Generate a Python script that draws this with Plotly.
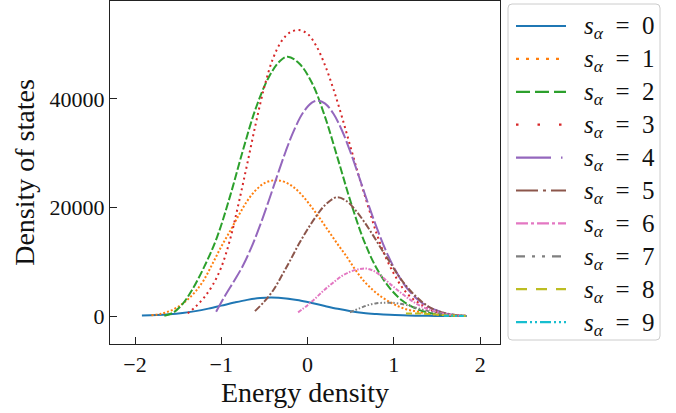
import plotly.graph_objects as go

# ---- data ----
x0 = [-1.92,-1.75,-1.6,-1.45,-1.3,-1.15,-1.0,-0.85,-0.7,-0.55,-0.42,-0.25,-0.1,0.05,0.2,0.35,0.5,0.65,0.8,0.95,1.1,1.25,1.4,1.55,1.7,1.84]
y0 = [72,164,312,551,900,1363,1910,2476,2972,3302,3400,3247,2887,2390,1842,1320,881,560,360,210,120,65,32,15,6,2]

x1 = [-1.81,-1.7,-1.6,-1.5,-1.4,-1.3,-1.2,-1.1,-1.0,-0.9,-0.8,-0.7,-0.6,-0.5,-0.4,-0.34,-0.25,-0.15,-0.05,0.05,0.15,0.25,0.35,0.45,0.55,0.65,0.75,0.85,0.95,1.05,1.15,1.25,1.35,1.45,1.55,1.65,1.75,1.84]
y1 = [150,400,900,1700,2900,4500,6700,9700,12800,15600,18500,21200,23200,24500,25000,25000,24600,23600,22000,20000,17800,15500,13200,11000,8600,6500,4900,3600,2600,1800,1200,880,550,320,180,90,35,5]

x2 = [-1.66,-1.56,-1.45,-1.35,-1.2,-1.05,-0.9,-0.75,-0.6,-0.45,-0.32,-0.23,-0.1,0.05,0.2,0.35,0.5,0.65,0.8,0.95,1.1,1.25,1.4,1.55,1.7,1.84]
y2 = [50,600,2200,4500,9000,14500,22000,30500,38300,44000,47000,47800,46600,43000,36800,29000,21000,14000,8800,5200,2800,1400,600,220,70,10]

x3 = [-1.39,-1.3,-1.2,-1.1,-1.0,-0.9,-0.8,-0.7,-0.6,-0.5,-0.4,-0.3,-0.2,-0.1,0.0,0.1,0.2,0.3,0.4,0.5,0.6,0.7,0.8,0.9,1.0,1.1,1.2,1.3,1.4,1.5,1.6,1.72,1.84]
y3 = [500,1700,3400,5700,9000,14000,20700,28000,35500,42300,47500,50700,52300,52700,52000,49800,46300,41800,36600,31000,25500,20300,15200,11000,7800,5200,3400,2300,1300,700,330,120,20]

x4 = [-1.06,-0.95,-0.85,-0.75,-0.65,-0.55,-0.45,-0.35,-0.25,-0.15,-0.05,0.05,0.12,0.2,0.3,0.4,0.5,0.6,0.7,0.8,0.9,1.0,1.1,1.2,1.3,1.4,1.5,1.6,1.72,1.84]
y4 = [800,3900,6500,9260,12690,16740,21250,25950,30510,34500,37540,39320,39690,39200,37290,34140,30060,25480,20780,16320,12310,8960,6260,4220,2720,1700,1020,450,180,20]

x5 = [-0.61,-0.5,-0.4,-0.3,-0.2,-0.1,0.0,0.1,0.2,0.34,0.45,0.55,0.65,0.75,0.85,0.95,1.05,1.15,1.25,1.35,1.45,1.55,1.65,1.75,1.84]
y5 = [900,2700,4700,7400,10300,13300,16000,18400,20400,21900,21200,19600,17500,15100,12500,10000,7500,5400,3700,2300,1300,700,330,120,20]

x6 = [-0.11,0.0,0.1,0.2,0.3,0.4,0.5,0.6,0.68,0.78,0.88,0.98,1.08,1.18,1.28,1.38,1.48,1.58,1.7,1.84]
y6 = [680,2000,3400,4900,6200,7400,8200,8650,8750,8200,7000,5600,4300,3100,2100,1350,800,420,160,20]

x7 = [0.49,0.6,0.7,0.8,0.9,0.97,1.05,1.15,1.25,1.35,1.45,1.55,1.65,1.75,1.84]
y7 = [700,1400,2000,2350,2450,2450,2300,2000,1550,1100,700,400,200,70,10]

x8 = [1.14,1.25,1.35,1.45,1.55,1.65,1.75,1.84]
y8 = [450,480,420,320,200,110,40,5]

x9 = [1.58,1.68,1.76,1.84]
y9 = [30,25,12,2]

labels = ["0","1","2","3","4","5","6","7","8","9"]
xs = [x0,x1,x2,x3,x4,x5,x6,x7,x8,x9]
ys = [y0,y1,y2,y3,y4,y5,y6,y7,y8,y9]

x_ticks = [-2,-1,0,1,2]
y_ticks = [0,20000,40000]

# ---- styles ----
colors = ["#1f77b4","#ff7f0e","#2ca02c","#d62728","#9467bd",
          "#8c564b","#e377c2","#7f7f7f","#bcbd22","#17becf"]
plot_dash = ["solid","2px,2px","8px,2.5px","2px,3.5px","14px,3px",
             "7px,2px,2px,2px","4px,1.5px,1.5px,1.5px",
             "4px,2px,1.5px,2px,1.5px,2px","6px,3px",
             "5px,2px,2px,2px,2px,2px"]
legend_dash = ["solid","3px,7px","14px,5px","2.5px,19px","35px,10px,1.5px,10px",
               "22px,5px,3px,5px","12px,3px,3px,3px",
               "9px,7px,3px,7px,3px,7px","11px,9px",
               "11px,3px,2px,3px,2px,3px"]

W, H = 676, 413
ML, MR, MT, MB = 110, 176, 1, 69
PW, PH = W - ML - MR, H - MT - MB

def px_x(p):  # pixel -> paper x
    return (p - ML) / PW

def px_y(p):  # pixel -> paper y
    return (H - MB - p) / PH

fig = go.Figure()
for i in range(10):
    fig.add_trace(go.Scatter(x=xs[i], y=ys[i], mode="lines", line_shape="spline",
                             line=dict(color=colors[i], width=2, dash=plot_dash[i]),
                             name="s_α = " + labels[i],
                             showlegend=False, hoverinfo="skip"))

serif = "Liberation Serif, Times New Roman, serif"

# ---- legend drawn as a box with line samples and text ----
bx0, bx1, by0, by1, r = 508, 660, 4, 340, 4
path = (f"M {px_x(bx0 + r)},{px_y(by0)} L {px_x(bx1 - r)},{px_y(by0)} "
        f"Q {px_x(bx1)},{px_y(by0)} {px_x(bx1)},{px_y(by0 + r)} "
        f"L {px_x(bx1)},{px_y(by1 - r)} Q {px_x(bx1)},{px_y(by1)} {px_x(bx1 - r)},{px_y(by1)} "
        f"L {px_x(bx0 + r)},{px_y(by1)} Q {px_x(bx0)},{px_y(by1)} {px_x(bx0)},{px_y(by1 - r)} "
        f"L {px_x(bx0)},{px_y(by0 + r)} Q {px_x(bx0)},{px_y(by0)} {px_x(bx0 + r)},{px_y(by0)} Z")
shapes = [dict(type="path", xref="paper", yref="paper", path=path,
               line=dict(color="#cccccc", width=1), fillcolor="white", layer="above")]
annotations = []
for i in range(10):
    cy = 26 + 32.9 * i
    shapes.append(dict(type="line", xref="paper", yref="paper",
                       x0=px_x(516), x1=px_x(566), y0=px_y(cy), y1=px_y(cy),
                       line=dict(color=colors[i], width=2.2, dash=legend_dash[i]),
                       layer="above"))
    annotations.append(dict(xref="paper", yref="paper", x=px_x(582), y=px_y(cy + 2),
                            xanchor="left", yanchor="middle", showarrow=False,
                            text="<i>s</i><sub><i>α</i></sub>\u2002=\u2002" + labels[i],
                            font=dict(size=25, family=serif, color="#111")))

fig.update_layout(
    width=W, height=H,
    margin=dict(l=ML, r=MR, t=MT, b=MB),
    paper_bgcolor="white", plot_bgcolor="white",
    font=dict(family=serif, color="#111"),
    showlegend=False,
    shapes=shapes, annotations=annotations,
    xaxis=dict(range=[-2.29, 2.23], tickvals=x_ticks, ticks="inside", ticklen=7,
               tickwidth=1, tickcolor="#222", showline=True, linecolor="#222",
               linewidth=1.2, mirror=True, showgrid=False, zeroline=False,
               tickfont=dict(size=22, family=serif),
               title=dict(text="Energy density", font=dict(size=28, family=serif), standoff=6)),
    yaxis=dict(range=[-5160, 58060], tickvals=y_ticks, tickformat="d", ticks="inside", ticklen=7,
               tickwidth=1, tickcolor="#222", showline=True, linecolor="#222",
               linewidth=1.2, mirror=True, showgrid=False, zeroline=False,
               tickfont=dict(size=22, family=serif),
               title=dict(text="Density of states", font=dict(size=28, family=serif), standoff=6)),
)

fig.write_html("out.html")
